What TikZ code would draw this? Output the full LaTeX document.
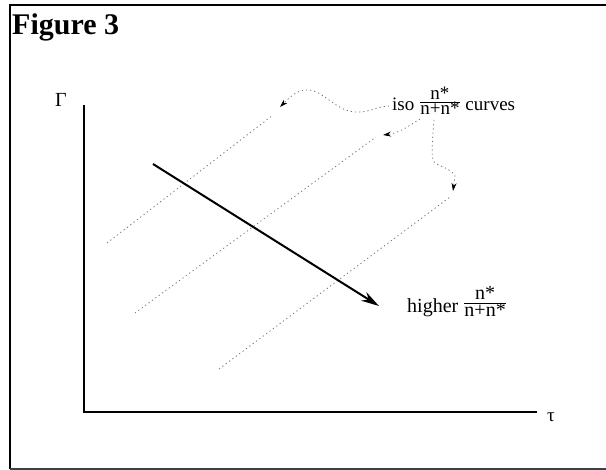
\documentclass[tikz,border=0pt]{standalone}
\usepackage{fontspec}
\setmainfont{Liberation Serif}
\usetikzlibrary{arrows.meta}
\newcommand{\nfrac}{\raisebox{0.25em}{$\frac{\mbox{n*}}{\mbox{n+n*}}$}}
\begin{document}
\begin{tikzpicture}[x=1pt,y=-1pt,
  frame/.style={line width=1.6pt},
  axis/.style={line width=1.3pt},
  isoline/.style={black!55, line width=0.8pt, dash pattern=on 1.2pt off 3pt},
  conn/.style={black!55, line width=0.8pt, dash pattern=on 1.2pt off 3pt, -{Stealth[length=8pt,width=5pt,color=black]}},
  lbl/.style={inner sep=0pt, anchor=base west},
]
\useasboundingbox (0,0) rectangle (606,470);
% frame
\coordinate (f1) at (606,5);
\coordinate (f2) at (10,5);
\coordinate (f3) at (10,469);
\coordinate (f4) at (606,469);
\draw[frame] (f1) -- (f2) -- (f3);
\draw[line width=1.2pt, black!75] (f3) -- (f4);
% title
\node[lbl, font=\fontsize{30}{33}\selectfont\bfseries] (title) at (12,35) {Figure 3};
% axes
\coordinate (ytop) at (84,105);
\coordinate (O) at (84,412);
\coordinate (xend) at (537,412);
\draw[axis] (ytop) -- (O) -- (xend);
\node[inner sep=0pt, font=\fontsize{20}{22}\selectfont] (gam) at (61,100) {Γ};
\node[inner sep=0pt, font=\fontsize{19}{22}\selectfont] (tau) at (551,417) {τ};
% iso curves
\coordinate (a0) at (107,243);
\coordinate (a1) at (273,115);
\coordinate (b0) at (135,313);
\coordinate (b1) at (376,137);
\coordinate (c0) at (219,369);
\coordinate (c1) at (450,197);
\draw[isoline] (a0) -- (a1);
\draw[isoline] (b0) -- (b1);
\draw[isoline] (c0) -- (c1);
% labels
\node[lbl, font=\fontsize{19}{22}\selectfont] (iso) at (392,111) {iso \nfrac\ curves};
\node[lbl, font=\fontsize{20}{24}\selectfont] (hi) at (407,313) {higher \nfrac};
% main arrow
\coordinate (m0) at (153,164);
\coordinate (m1) at (379,306);
\draw[line width=2pt, -{Stealth[length=18pt,width=10pt]}] (m0) -- (m1);
% connectors
\coordinate (tipA) at (280,107);
\coordinate (tipB) at (383,135);
\coordinate (tipC) at (453,191);
\draw[conn] ([shift={(-3,-5)}]iso.base west) .. controls (375,107) and (368,113) .. (355,112)
  .. controls (335,111) and (322,88) .. (305,90)
  .. controls (295,91) and (287,100) .. (tipA);
\draw[conn] ([shift={(28,8)}]iso.base west) .. controls (410,125) and (400,133) .. (tipB);
\draw[conn] ([shift={(42,9)}]iso.base west) .. controls (433,135) and (431,150) .. (433,160)
  .. controls (435,166) and (450,167) .. (455,176) -- (tipC);
\end{tikzpicture}
\end{document}
